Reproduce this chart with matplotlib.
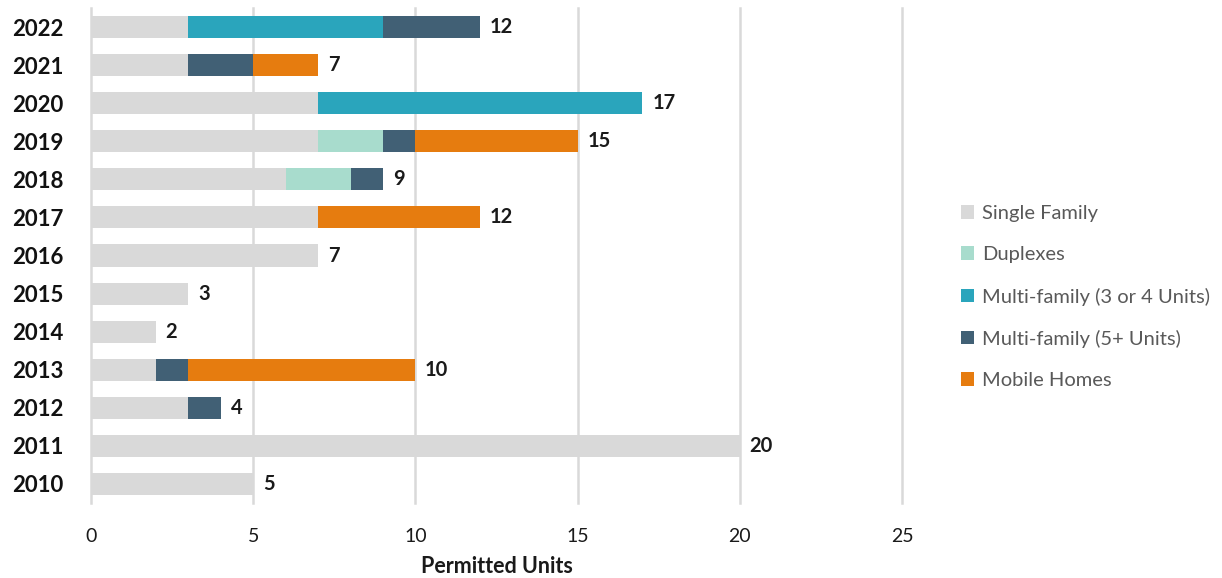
import matplotlib
matplotlib.use("Agg")
import matplotlib.pyplot as plt
from matplotlib.patches import Patch
import numpy as np

years = ["2022", "2021", "2020", "2019", "2018", "2017", "2016",
         "2015", "2014", "2013", "2012", "2011", "2010"]
series_names = ["Single Family", "Duplexes", "Multi-family (3 or 4 Units)",
                "Multi-family (5+ Units)", "Mobile Homes"]
single_family = [3, 3, 7, 7, 6, 7, 7, 3, 2, 2, 3, 20, 5]
duplexes      = [0, 0, 0, 2, 2, 0, 0, 0, 0, 0, 0, 0, 0]
mf_3_4        = [6, 0, 10, 0, 0, 0, 0, 0, 0, 0, 0, 0, 0]
mf_5_plus     = [3, 2, 0, 1, 1, 0, 0, 0, 0, 1, 1, 0, 0]
mobile_homes  = [0, 2, 0, 5, 0, 5, 0, 0, 0, 7, 0, 0, 0]
colors = ["#d9d9d9", "#a8dccd", "#2aa5bc", "#416075", "#e67c0f"]

plt.rcParams["font.family"] = ["Lato", "DejaVu Sans"]

fig = plt.figure(figsize=(12.22, 5.78), dpi=100)
ax = fig.add_axes([91 / 1222, 1 - 503 / 578, (902 - 91) / 1222, (503 - 8) / 578])

y = np.arange(len(years))
series = [single_family, duplexes, mf_3_4, mf_5_plus, mobile_homes]
left = np.zeros(len(years))
for vals, col in zip(series, colors):
    vals = np.array(vals, dtype=float)
    ax.barh(y, vals, left=left, height=0.58, color=col, zorder=3)
    left += vals

for yi, tot in zip(y, left):
    ax.text(tot + 0.3, yi, f"{int(tot)}", va="center", ha="left",
            fontsize=14.5, fontweight="bold", color="#1a1a1a")

ax.set_xlim(0, 25)
ax.set_ylim(len(years) - 0.5, -0.5)
ax.set_xticks([0, 5, 10, 15, 20, 25])
ax.set_yticks(y)
ax.set_yticklabels(years, fontsize=16, fontweight="bold", color="#111111")
ax.tick_params(axis="both", length=0)
ax.tick_params(axis="y", pad=20)
ax.tick_params(axis="x", pad=18, labelsize=14, labelcolor="#1a1a1a")
ax.xaxis.grid(True, color="#d9d9d9", linewidth=1.8, zorder=0)
for gl in ax.get_xgridlines():
    gl.set_clip_on(False)
for s in ax.spines.values():
    s.set_visible(False)
ax.set_xlabel("Permitted Units", fontsize=15.5, fontweight="bold",
              color="#1a1a1a", labelpad=8)

handles = [Patch(facecolor=c, edgecolor="none") for c in colors]
fig.legend(handles, series_names, loc="upper left",
           bbox_to_anchor=(943 / 1222, 1 - 187 / 578), frameon=False,
           fontsize=14.5, labelcolor="#595959", handlelength=0.65,
           handleheight=0.65, handletextpad=0.4, labelspacing=1.2)

fig.savefig("out.png", dpi=100)
